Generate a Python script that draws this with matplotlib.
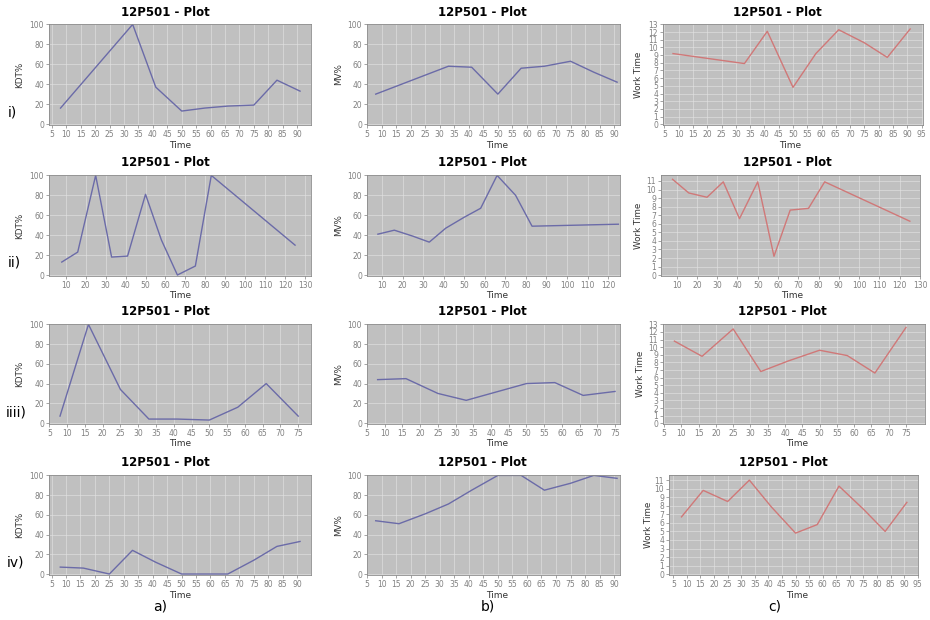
import matplotlib
matplotlib.use("Agg")
import matplotlib.pyplot as plt
import numpy as np

# ---------------- data ----------------
title_text = "12P501 - Plot"
row_labels = ["i)", "ii)", "iiii)", "iv)"]
col_labels = ["a)", "b)", "c)"]
y_labels = ["KDT%", "MV%", "Work Time"]
x_label = "Time"

x_i = [8, 33, 41, 50, 58, 66, 75, 83, 91]
kdt_i = [16, 100, 37, 13, 16, 18, 19, 44, 33]
mv_i = [30, 58, 57, 30, 56, 58, 63, 52, 42]
wt_i = [9.2, 7.9, 12.1, 4.8, 9.2, 12.3, 10.6, 8.7, 12.4]

x_ii = [8, 16, 25, 33, 41, 50, 58, 66, 75, 83, 125]
kdt_ii = [13, 23, 100, 18, 19, 81, 35, 0, 9, 100, 30]
mv_ii = [41, 45, 39, 33, 47, 58, 67, 100, 80, 49, 51]
wt_ii = [11.2, 9.6, 9.1, 10.9, 6.6, 10.9, 2.2, 7.6, 7.8, 10.9, 6.3]

x_iii = [8, 16, 25, 33, 41, 50, 58, 66, 75]
kdt_iii = [7, 100, 34, 4, 4, 3, 16, 40, 7]
mv_iii = [44, 45, 30, 23, 31, 40, 41, 28, 32]
wt_iii = [10.8, 8.8, 12.4, 6.8, 8.2, 9.6, 8.9, 6.6, 12.6]

x_iv = [8, 16, 25, 33, 41, 50, 58, 66, 75, 83, 91]
kdt_iv = [7, 6, 0, 24, 12, 0, 0, 0, 14, 28, 33]
mv_iv = [54, 51, 61, 71, 85, 100, 100, 85, 92, 100, 97]
wt_iv = [6.7, 9.8, 8.5, 11.0, 7.9, 4.8, 5.8, 10.3, 7.6, 5.0, 8.4]

rows_x = [x_i, x_ii, x_iii, x_iv]
rows_y = [[kdt_i, mv_i, wt_i], [kdt_ii, mv_ii, wt_ii],
          [kdt_iii, mv_iii, wt_iii], [kdt_iv, mv_iv, wt_iv]]

# x ticks per row
xticks_rows = [list(range(5, 96, 5)), list(range(10, 131, 10)),
               list(range(5, 76, 5)), list(range(5, 96, 5))]
# work-time y ticks per row
wt_ticks_rows = [list(range(0, 14)), list(range(0, 12)),
                 list(range(0, 14)), list(range(0, 12))]
pct_ticks = list(range(0, 101, 20))

# ---------------- layout (pixels) ----------------
W, H = 930, 620
fig = plt.figure(figsize=(W / 100, H / 100), dpi=100)
fig.patch.set_facecolor("white")

row_tb = [(24, 125), (175, 276), (324, 424), (475, 575)]
col_lr = [[(49, 311), (367, 620), (663, 923)],
          [(49, 311), (367, 620), (661, 920)],
          [(49, 311), (367, 620), (663, 925)],
          [(49, 311), (367, 620), (669, 918)]]
xlims = [[(4.0, 94.8), (5.0, 92.0), (4.5, 95.5)],
         [(1.6, 133.0), (2.7, 125.8), (2.3, 130.0)],
         [(4.9, 78.6), (5.0, 76.4), (4.7, 80.5)],
         [(4.1, 94.8), (5.0, 92.0), (3.4, 95.1)]]
wt_ylims = [(-0.1, 13.05), (-0.1, 11.7), (-0.1, 13.05), (-0.1, 11.6)]
title_x = [[165, 482, 777], [165, 482, 787], [165, 482, 782], [165, 482, 783]]
title_y = [12, 163, 312, 462]
ylab_x = [[20, 339, 638], [20, 339, 638], [20, 339, 640], [20, 339, 648]]
time_x = [[180, 497, 790], [180, 497, 792], [180, 497, 797], [180, 497, 797]]
rowlab_xy = [(12, 112), (14, 262), (16, 412), (15, 562)]
collab_xy = [(160, 607), (488, 607), (775, 607)]

bg = "#c0c0c0"
blue = "#6b6ba8"
red = "#d07878"
tickc = "#808080"

def fx(px):
    return px / W

def fy(py):
    return 1 - py / H

for r in range(4):
    top, bot = row_tb[r]
    for c in range(3):
        l, rr = col_lr[r][c]
        ax = fig.add_axes([fx(l), fy(bot), (rr - l) / W, (bot - top) / H])
        ax.set_facecolor(bg)
        xl = xlims[r][c]
        ax.set_xlim(*xl)
        xt = [t for t in xticks_rows[r] if xl[0] - 0.01 <= t <= xl[1] + 0.01]
        ax.set_xticks(xt)
        if c < 2:
            ax.set_ylim(-1, 100.4)
            ax.set_yticks(pct_ticks)
            color = blue
        else:
            ax.set_ylim(*wt_ylims[r])
            ax.set_yticks(wt_ticks_rows[r])
            color = red
        ax.grid(True, color="#e4e4e4", lw=0.5, alpha=0.8)
        ax.set_axisbelow(True)
        ax.plot(rows_x[r], rows_y[r][c], color=color, lw=1.0)
        ax.tick_params(labelsize=5.5, colors=tickc, length=2, width=0.5, pad=1.5)
        for s in ax.spines.values():
            s.set_color("#8a8a8a")
            s.set_linewidth(0.6)
        fig.text(fx(title_x[r][c]), fy(title_y[r]), title_text,
                 ha="center", va="center", fontsize=8.5, fontweight="bold")
        fig.text(fx(ylab_x[r][c]), fy((top + bot) / 2), y_labels[c], rotation=90,
                 ha="center", va="center", fontsize=6.3, color="#333333")
        fig.text(fx(time_x[r][c]), fy(bot + 20), x_label,
                 ha="center", va="center", fontsize=6.5, color="#333333")

for lab, (x, y) in zip(row_labels, rowlab_xy):
    fig.text(fx(x), fy(y), lab, ha="center", va="center", fontsize=10)
for lab, (x, y) in zip(col_labels, collab_xy):
    fig.text(fx(x), fy(y), lab, ha="center", va="center", fontsize=10)

fig.savefig("out.png", dpi=100, facecolor="white")
